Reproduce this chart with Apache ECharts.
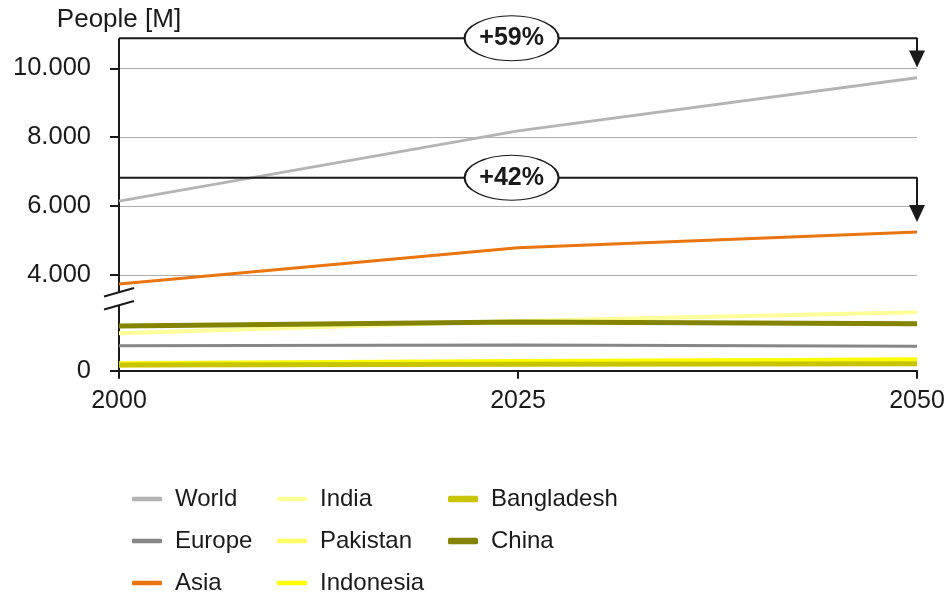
<!DOCTYPE html>
<html><head><meta charset="utf-8">
<script src="https://cdn.jsdelivr.net/npm/echarts@6/dist/echarts.min.js"></script>
<style>html,body{margin:0;padding:0;background:#fff}#c{width:948px;height:596px}</style>
</head><body><div id="c"></div>
<script>
// ---- data ----
const years = [2000, 2025, 2050];
const world = [6145, 8183, 9728];
const europe = [725, 745, 707];
const asia = [3739, 4791, 5250];
const india = [1084, 1440, 1693];
const pakistan = [150, 245, 335];
const indonesia = [214, 281, 325];
const bangladesh = [165, 190, 205];
const china = [1296, 1412, 1362];
const yTickValues = [0, 4000, 6000, 8000, 10000];
const xTickValues = [2000, 2025, 2050];
const yBreak = { start: 1900, end: 3500, gap: 377 };
const yMax = 10870;
// annotation brackets: [label, bracket level, arrow point, label x]
const bracketWorld = ['+59%', 10870, 10270, 2024.6];
const bracketAsia = ['+42%', 6823, 5782, 2024.6];

const FONT = '"Liberation Sans", Arial, Helvetica, sans-serif';
const INK = '#1a1a1a';

function lineSeries(name, vals, color, width) {
  return {
    type: 'line', name: name,
    data: years.map((y, i) => [y, vals[i]]),
    symbol: 'none', lineStyle: { color: color, width: width },
    itemStyle: { color: color }, z: 3, silent: true
  };
}
function bracketSeries(b) {
  return [{
    type: 'line', name: 'br' + b[0],
    data: [[years[0], b[1]], [years[2], b[1]],
      { value: [years[2], b[2]], symbol: 'triangle', symbolSize: [16, 17], symbolRotate: 180,
        itemStyle: { color: INK } }],
    symbol: 'none', showSymbol: true, clip: false, silent: true,
    lineStyle: { color: INK, width: 2 }, itemStyle: { color: INK }, z: 6
  }, {
    type: 'scatter', name: 'el' + b[0],
    data: [[b[3], b[1]]], symbol: 'circle', symbolSize: [94, 45], clip: false, silent: true,
    itemStyle: { color: '#fff', borderColor: INK, borderWidth: 1.5, opacity: 1 },
    label: { show: true, position: 'inside', formatter: b[0], fontSize: 25, fontWeight: 'bold',
      color: INK, fontFamily: FONT },
    z: 7
  }];
}

const fmt = v => String(v).replace(/\B(?=(\d{3})+(?!\d))/g, '.');

const legendBase = {
  orient: 'vertical', top: 487, itemWidth: 30, itemHeight: 4.5, itemGap: 18, padding: 0,
  icon: 'roundRect', selectedMode: false,
  textStyle: { fontSize: 24, color: INK, fontFamily: FONT, lineHeight: 24, padding: [0, 0, 0, 8] }
};

const chart = echarts.init(document.getElementById('c'), null, { renderer: 'canvas' });
chart.setOption({
  animation: false,
  backgroundColor: '#fff',
  textStyle: { fontFamily: FONT },
  grid: { left: 119, right: 31, top: 38.3, bottom: 225.3, containLabel: false, outerBoundsMode: 'none' },
  legend: [
    Object.assign({}, legendBase, { left: 132, data: ['World', 'Europe', 'Asia'] }),
    Object.assign({}, legendBase, { left: 277, data: ['India', 'Pakistan', 'Indonesia'] }),
    Object.assign({}, legendBase, { left: 448, itemHeight: 6.5, data: ['Bangladesh', 'China'] })
  ],
  xAxis: {
    type: 'value', min: 2000, max: 2050, interval: 25,
    axisLine: { show: true, onZero: false, lineStyle: { color: INK, width: 2 } },
    axisTick: { show: true, length: 8, inside: false, lineStyle: { color: INK, width: 2 } },
    axisLabel: { fontSize: 25, color: INK, fontFamily: FONT, margin: 18, formatter: v => String(v) },
    splitLine: { show: false }
  },
  yAxis: {
    type: 'value', min: 0, max: yMax, interval: 2000,
    name: 'People [M]', nameLocation: 'end', nameGap: 5,
    nameTextStyle: { fontSize: 26, color: INK, fontFamily: FONT, align: 'center', verticalAlign: 'bottom' },
    breaks: [yBreak],
    breakArea: { show: false },
    axisLine: { show: true, lineStyle: { color: INK, width: 2 } },
    axisTick: { show: true, length: 9, lineStyle: { color: INK, width: 2 }, customValues: yTickValues },
    axisLabel: { fontSize: 25.5, color: INK, fontFamily: FONT, margin: 28, formatter: fmt,
      customValues: yTickValues, padding: [5, 0, 0, 0] },
    splitLine: { show: true, lineStyle: { color: '#adadad', width: 1 } }
  },
  series: [
    lineSeries('World', world, '#b4b4b4', 3),
    lineSeries('Europe', europe, '#878787', 3),
    lineSeries('Asia', asia, '#e8750f', 3),
    lineSeries('India', india, '#ffff99', 4),
    lineSeries('Pakistan', pakistan, '#ffff66', 4),
    lineSeries('Indonesia', indonesia, '#ffff00', 4),
    lineSeries('Bangladesh', bangladesh, '#c8c400', 5),
    lineSeries('China', china, '#848400', 5)
  ].concat(bracketSeries(bracketWorld), bracketSeries(bracketAsia))
});

// axis-break mark "//" on the y axis
const x0 = chart.convertToPixel({ xAxisIndex: 0 }, xTickValues[0]);
const yLo = chart.convertToPixel({ yAxisIndex: 0 }, yBreak.start);
const yHi = chart.convertToPixel({ yAxisIndex: 0 }, yBreak.end);
const dx = 15, dy = 4.2;
chart.setOption({
  graphic: [
    { type: 'polygon', z: 100, silent: true,
      shape: { points: [[x0 - dx, yHi + dy], [x0 + dx, yHi - dy], [x0 + dx, yLo - dy], [x0 - dx, yLo + dy]] },
      style: { fill: '#fff' } },
    { type: 'line', z: 101, silent: true,
      shape: { x1: x0 - dx, y1: yHi + dy, x2: x0 + dx, y2: yHi - dy }, style: { stroke: INK, lineWidth: 2 } },
    { type: 'line', z: 101, silent: true,
      shape: { x1: x0 - dx, y1: yLo + dy, x2: x0 + dx, y2: yLo - dy }, style: { stroke: INK, lineWidth: 2 } }
  ]
});
</script>
</body></html>
